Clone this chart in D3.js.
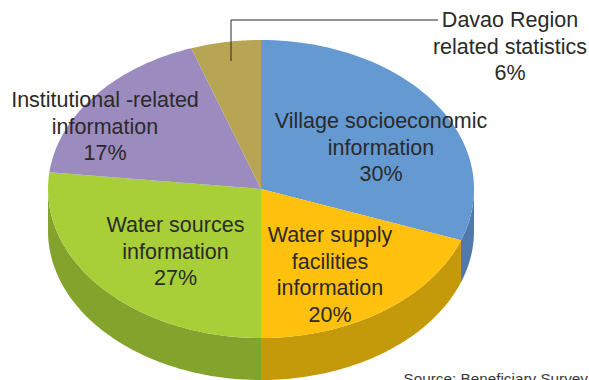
<!DOCTYPE html>
<html><head><meta charset="utf-8">
<script src="https://cdn.jsdelivr.net/npm/d3@7"></script>
<style>html,body{margin:0;padding:0;background:#fff}svg{display:block}text{font-family:"Liberation Sans",Arial,sans-serif;fill:#2b2a29}</style>
</head><body><svg id="c" width="589" height="380"></svg>
<script>
const categories = ["Village socioeconomic information","Water supply facilities information","Water sources information","Institutional -related information","Davao Region related statistics"];
// slice sizes as read from the drawn slice boundaries
const sliceShares = [30.6,19.4,26.8,17.9,5.3];
const percentLabels = ["30%","20%","27%","17%","6%"];
const topColors = ["#6499d2","#ffc10e","#a8cf38","#9b8bbf","#b8a554"];
const wallColors = ["#4f7aab","#c49a0a","#84a32c","#7d6f9a","#93843f"];
const labelLines = [["Village socioeconomic","information"],["Water supply","facilities","information"],["Water sources","information"],["Institutional -related","information"],["Davao Region","related statistics"]];
const labelPos = [[381,128],[330,242],[175.5,232],[105,107],[510,27]];

const W=589,H=380,cx=261,cy=189,rx=213,ry=149,depth=42;
const svg=d3.select("#c");
const pie=d3.pie().sort(null).value(d=>d)(sliceShares);
const px=a=>cx+rx*Math.sin(a), py=a=>cy-ry*Math.cos(a);
const steps=a=>d3.range(0,61).map(i=>a[0]+(a[1]-a[0])*i/60);
const line=d3.line();
const rad=Math.PI/180;

// walls
pie.forEach((s,i)=>{
  const a0=Math.max(s.startAngle,90*rad), a1=Math.min(s.endAngle,270*rad);
  if(a1<=a0) return;
  const top=steps([a0,a1]).map(a=>[px(a),py(a)]);
  const bot=top.slice().reverse().map(p=>[p[0],p[1]+depth]);
  svg.append("path").attr("d",line(top.concat(bot))+"Z").attr("fill",wallColors[i]);
});
// tops
pie.forEach((s,i)=>{
  const pts=[[cx,cy]].concat(steps([s.startAngle,s.endAngle]).map(a=>[px(a),py(a)]));
  svg.append("path").attr("d",line(pts)+"Z").attr("fill",topColors[i]);
});
// leader
svg.append("path").attr("d",line([[231,61],[231,20],[438,20]])).attr("fill","none").attr("stroke","#2b2a29").attr("stroke-width",1);
// labels
categories.forEach((c,i)=>{
  const t=svg.append("text").attr("text-anchor","middle").attr("font-size",21.5);
  labelLines[i].concat([percentLabels[i]]).forEach((l,k)=>{
    t.append("tspan").attr("x",labelPos[i][0]).attr("y",labelPos[i][1]+k*26.6).text(l);
  });
});
svg.append("text").attr("x",588).attr("y",384).attr("text-anchor","end").attr("font-size",15.3).style("fill","#3a3a3a").text("Source: Beneficiary Survey");
</script></body></html>
